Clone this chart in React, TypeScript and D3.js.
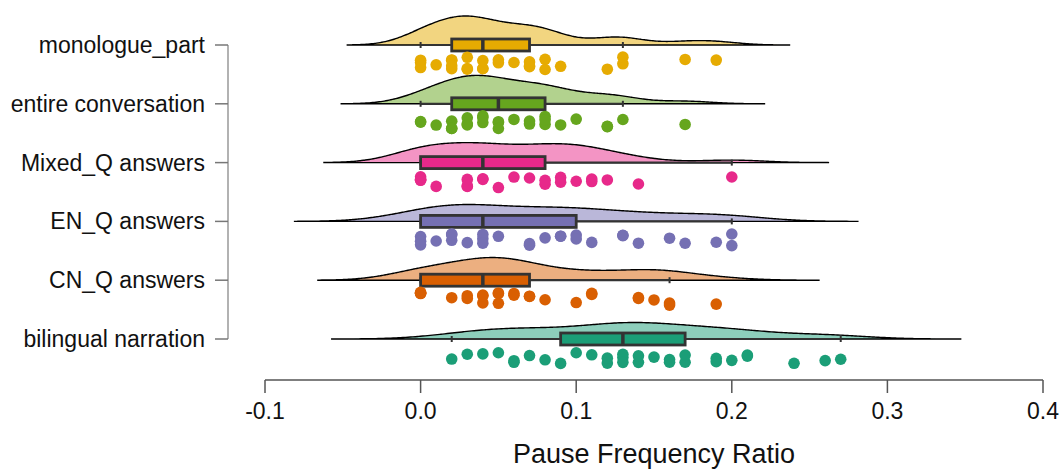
import React from "react";
import * as d3 from "d3";

const categories = ["monologue_part", "entire conversation", "Mixed_Q answers", "EN_Q answers", "CN_Q answers", "bilingual narration"];
const colors = ["#e6ab02", "#66a61e", "#e7298a", "#7570b3", "#d95f02", "#1b9e77"];

const monologue = [0, 0, 0, 0.01, 0.02, 0.02, 0.02, 0.02, 0.03, 0.03, 0.03, 0.04, 0.04, 0.04, 0.05, 0.05, 0.06, 0.07, 0.07, 0.07, 0.08, 0.08, 0.09, 0.12, 0.13, 0.13, 0.17, 0.19];
const entire = [0, 0, 0.01, 0.02, 0.02, 0.02, 0.03, 0.03, 0.03, 0.04, 0.04, 0.04, 0.05, 0.05, 0.05, 0.06, 0.07, 0.07, 0.08, 0.08, 0.08, 0.09, 0.1, 0.12, 0.12, 0.13, 0.17];
const mixedQ = [0, 0, 0, 0, 0.01, 0.03, 0.03, 0.03, 0.04, 0.04, 0.05, 0.06, 0.07, 0.08, 0.08, 0.09, 0.09, 0.1, 0.11, 0.11, 0.12, 0.14, 0.2];
const enQ = [0, 0, 0, 0.01, 0.02, 0.02, 0.02, 0.03, 0.04, 0.04, 0.04, 0.05, 0.07, 0.07, 0.08, 0.09, 0.09, 0.1, 0.1, 0.11, 0.13, 0.13, 0.14, 0.16, 0.17, 0.19, 0.2, 0.2];
const cnQ = [0, 0, 0, 0, 0.02, 0.03, 0.03, 0.04, 0.04, 0.04, 0.05, 0.05, 0.05, 0.06, 0.06, 0.07, 0.07, 0.08, 0.1, 0.11, 0.11, 0.14, 0.14, 0.15, 0.16, 0.16, 0.19];
const bilingual = [0.02, 0.03, 0.04, 0.05, 0.06, 0.06, 0.07, 0.08, 0.09, 0.1, 0.11, 0.12, 0.12, 0.13, 0.13, 0.13, 0.14, 0.14, 0.15, 0.16, 0.16, 0.17, 0.17, 0.19, 0.19, 0.2, 0.21, 0.21, 0.24, 0.26, 0.27];

const q1 = [0.02, 0.02, 0, 0, 0, 0.09];
const median = [0.04, 0.05, 0.04, 0.04, 0.04, 0.13];
const q3 = [0.07, 0.08, 0.08, 0.1, 0.07, 0.17];
const whiskerLow = [0, 0, 0, 0, 0, 0.02];
const whiskerHigh = [0.13, 0.13, 0.2, 0.2, 0.16, 0.27];
const bandwidths = [0.0157, 0.017, 0.0207, 0.027, 0.022, 0.0257];

const xTicks = [-0.1, 0, 0.1, 0.2, 0.3, 0.4];
const xTickLabels = ["-0.1", "0.0", "0.1", "0.2", "0.3", "0.4"];
const xTitle = "Pause Frequency Ratio";

const series = [monologue, entire, mixedQ, enQ, cnQ, bilingual];

const W = 1063, H = 473;
const FONT = "'Liberation Sans', Arial, sans-serif";

function kde(values: number[], bw: number) {
  const lo = d3.min(values)! - 3 * bw;
  const hi = d3.max(values)! + 3 * bw;
  const n = 256;
  const pts: [number, number][] = [];
  for (let i = 0; i <= n; i++) {
    const x = lo + ((hi - lo) * i) / n;
    let s = 0;
    for (const v of values) {
      const z = (x - v) / bw;
      s += Math.exp(-0.5 * z * z);
    }
    pts.push([x, s / (values.length * bw * Math.sqrt(2 * Math.PI))]);
  }
  return pts;
}

export default function App() {
  const x = d3.scaleLinear().domain([-0.1, 0.4]).range([265, 1043]);
  const y = d3.scalePoint<string>().domain(categories).range([45, 339]);
  const dens = series.map((s, i) => kde(s, bandwidths[i]));
  const maxD = d3.max(dens.flat(), (d) => d[1])!;
  const h = d3.scaleLinear().domain([0, maxD]).range([0, 29]);
  const rng = d3.randomLcg(0.4217);
  const jit = d3.randomUniform.source(rng)(-1, 1);

  return (
    <svg width={W} height={H} style={{ position: "absolute", left: 0, top: 0, background: "#fff" }} fontFamily={FONT}>
      {categories.map((c, i) => {
        const cy = y(c)!;
        const area = d3
          .line<[number, number]>()
          .x((d) => x(d[0]))
          .y((d) => cy - h(d[1]))
          .curve(d3.curveBasis);
        const pts = dens[i];
        const path = area(pts)! + `L${x(pts[pts.length - 1][0])},${cy}L${x(pts[0][0])},${cy}Z`;
        return (
          <g key={c}>
            <path d={path} fill={colors[i]} fillOpacity={0.5} stroke="#000" strokeWidth={1.4} />
            <line x1={x(whiskerLow[i])} x2={x(whiskerHigh[i])} y1={cy} y2={cy} stroke="#333" strokeWidth={2.2} />
            <line x1={x(whiskerLow[i])} x2={x(whiskerLow[i])} y1={cy - 3} y2={cy + 3} stroke="#333" strokeWidth={2} />
            <line x1={x(whiskerHigh[i])} x2={x(whiskerHigh[i])} y1={cy - 3} y2={cy + 3} stroke="#333" strokeWidth={2} />
            <rect x={x(q1[i])} y={cy - 6} width={x(q3[i]) - x(q1[i])} height={12} fill={colors[i]} stroke="#333" strokeWidth={2.8} />
            <line x1={x(median[i])} x2={x(median[i])} y1={cy - 6} y2={cy + 6} stroke="#333" strokeWidth={3.5} />
            {series[i].map((v, k) => (
              <circle key={k} cx={x(v)} cy={cy + 18.5 + jit() * 6.5} r={5.8} fill={colors[i]} />
            ))}
          </g>
        );
      })}
      {/* y axis */}
      <line x1={228} x2={228} y1={y(categories[0])!} y2={y(categories[categories.length - 1])!} stroke="#999" strokeWidth={1.5} />
      {categories.map((c) => (
        <g key={c}>
          <line x1={215} x2={228} y1={y(c)!} y2={y(c)!} stroke="#777" strokeWidth={1.5} />
          <text x={205} y={y(c)!} dy="0.35em" textAnchor="end" fontSize={23} fill="#111">
            {c}
          </text>
        </g>
      ))}
      {/* x axis */}
      <line x1={x(-0.1)} x2={x(0.4)} y1={380} y2={380} stroke="#555" strokeWidth={1.5} />
      {xTicks.map((t, i) => (
        <g key={t}>
          <line x1={x(t)} x2={x(t)} y1={380} y2={393} stroke="#555" strokeWidth={1.5} />
          <text x={x(t)} y={411} dy="0.35em" textAnchor="middle" fontSize={23} fill="#111">
            {xTickLabels[i]}
          </text>
        </g>
      ))}
      <text x={x(0.15)} y={454} dy="0.35em" textAnchor="middle" fontSize={27} fill="#111">
        {xTitle}
      </text>
    </svg>
  );
}
